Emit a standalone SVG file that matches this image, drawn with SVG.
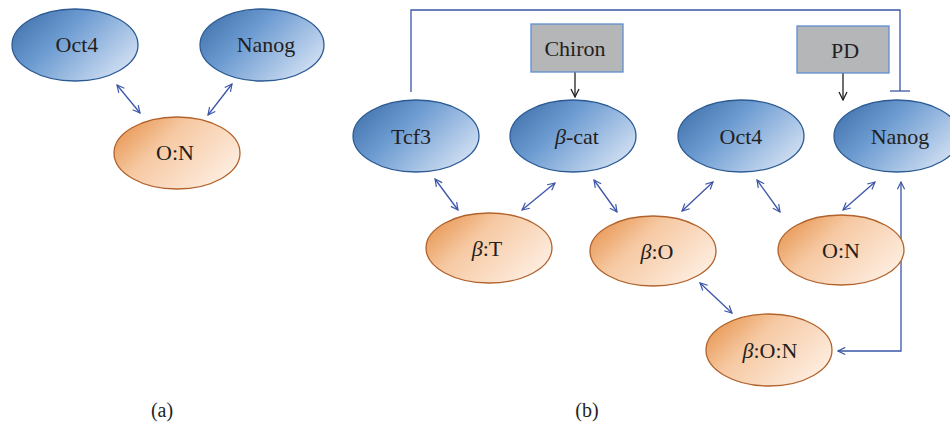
<svg xmlns="http://www.w3.org/2000/svg" width="950" height="425" viewBox="0 0 950 425">
<style>
.blue{fill:url(#gb);stroke:#2c5b94;stroke-width:1.3}
.orng{fill:url(#go);stroke:#b2632c;stroke-width:1.3}
.box{fill:#b5b6b8;stroke:#5b8fd0;stroke-width:1.3}
text{font-family:"Liberation Serif","Times New Roman",serif;font-size:22px;fill:#231f20;text-anchor:middle}
.cap{font-size:20px}
.c{fill:none;stroke:#3b55a8;stroke-width:1.3}
.k{fill:none;stroke:#231f20;stroke-width:1.3}
</style>
<defs>
<linearGradient id="gb" x1="0" y1="0" x2="1" y2="0.6">
<stop offset="0" stop-color="#3a6aa5"/>
<stop offset="0.45" stop-color="#6c9bd1"/>
<stop offset="1" stop-color="#c9daf0"/>
</linearGradient>
<linearGradient id="go" x1="0" y1="0" x2="1" y2="0.6">
<stop offset="0" stop-color="#e48a3e"/>
<stop offset="0.45" stop-color="#f6c9a3"/>
<stop offset="1" stop-color="#fdebdc"/>
</linearGradient>
<marker id="ah" viewBox="0 0 10 10" refX="9" refY="5" markerWidth="9" markerHeight="9" markerUnits="userSpaceOnUse" orient="auto-start-reverse">
<path d="M1,1 L9,5 L1,9" fill="none" stroke="#3b55a8" stroke-width="1.3"/>
</marker>
<marker id="ak" viewBox="0 0 10 10" refX="9" refY="5" markerWidth="10" markerHeight="10" markerUnits="userSpaceOnUse" orient="auto">
<path d="M1,1 L9,5 L1,9" fill="none" stroke="#231f20" stroke-width="1.3"/>
</marker>
</defs>

<g id="connectors">
<line class="c" x1="117" y1="85" x2="140" y2="113" marker-start="url(#ah)" marker-end="url(#ah)"/>
<line class="c" x1="232" y1="84" x2="208" y2="115" marker-start="url(#ah)" marker-end="url(#ah)"/>
<line class="c" x1="435" y1="179" x2="458" y2="210" marker-start="url(#ah)" marker-end="url(#ah)"/>
<line class="c" x1="555" y1="183" x2="522" y2="210" marker-start="url(#ah)" marker-end="url(#ah)"/>
<line class="c" x1="594" y1="180" x2="617" y2="212" marker-start="url(#ah)" marker-end="url(#ah)"/>
<line class="c" x1="713" y1="182" x2="682" y2="211" marker-start="url(#ah)" marker-end="url(#ah)"/>
<line class="c" x1="757" y1="180" x2="780" y2="212" marker-start="url(#ah)" marker-end="url(#ah)"/>
<line class="c" x1="875" y1="182" x2="843" y2="210" marker-start="url(#ah)" marker-end="url(#ah)"/>
<line class="c" x1="700" y1="283" x2="732" y2="313" marker-start="url(#ah)" marker-end="url(#ah)"/>
<polyline class="c" points="901,182 901,351 838,351" marker-start="url(#ah)" marker-end="url(#ah)"/>
<polyline class="c" points="411,92 411,10 900,10 900,91"/>
<line class="c" x1="890" y1="91" x2="910" y2="91"/>
<line class="k" x1="575" y1="72" x2="575" y2="97" marker-end="url(#ak)"/>
<line class="k" x1="843" y1="73" x2="843" y2="100" marker-end="url(#ak)"/>
</g>

<g id="a-oct4"><ellipse class="blue" cx="75" cy="45" rx="63" ry="36"/><text x="77" y="52">Oct4</text></g>
<g id="a-nanog"><ellipse class="blue" cx="262" cy="45" rx="62" ry="36"/><text x="266" y="52">Nanog</text></g>
<g id="a-on"><ellipse class="orng" cx="177" cy="153" rx="63" ry="36"/><text x="175" y="160">O:N</text></g>

<g id="chiron"><rect class="box" x="531" y="24" width="92" height="48"/><text x="575" y="56">Chiron</text></g>
<g id="pd"><rect class="box" x="797" y="26" width="92" height="47"/><text x="845" y="58">PD</text></g>

<g id="tcf3"><ellipse class="blue" cx="416" cy="136" rx="63" ry="36"/><text x="411" y="144">Tcf3</text></g>
<g id="bcat"><ellipse class="blue" cx="573" cy="136" rx="63" ry="36"/><text x="577" y="144"><tspan font-style="italic">β</tspan>-cat</text></g>
<g id="b-oct4"><ellipse class="blue" cx="741" cy="136" rx="63" ry="36"/><text x="741" y="144">Oct4</text></g>
<g id="b-nanog"><ellipse class="blue" cx="897" cy="136" rx="63" ry="36"/><text x="900" y="144">Nanog</text></g>

<g id="bt"><ellipse class="orng" cx="489" cy="248" rx="63" ry="35"/><text x="487" y="256"><tspan font-style="italic">β</tspan>:T</text></g>
<g id="bo"><ellipse class="orng" cx="653" cy="251" rx="63" ry="35"/><text x="657" y="259"><tspan font-style="italic">β</tspan>:O</text></g>
<g id="b-on"><ellipse class="orng" cx="841" cy="250" rx="63" ry="35"/><text x="841" y="258">O:N</text></g>
<g id="bon"><ellipse class="orng" cx="769" cy="350" rx="63" ry="36"/><text x="770" y="358"><tspan font-style="italic">β</tspan>:O:N</text></g>

<text class="cap" x="162" y="417">(a)</text>
<text class="cap" x="587" y="417">(b)</text>
</svg>
